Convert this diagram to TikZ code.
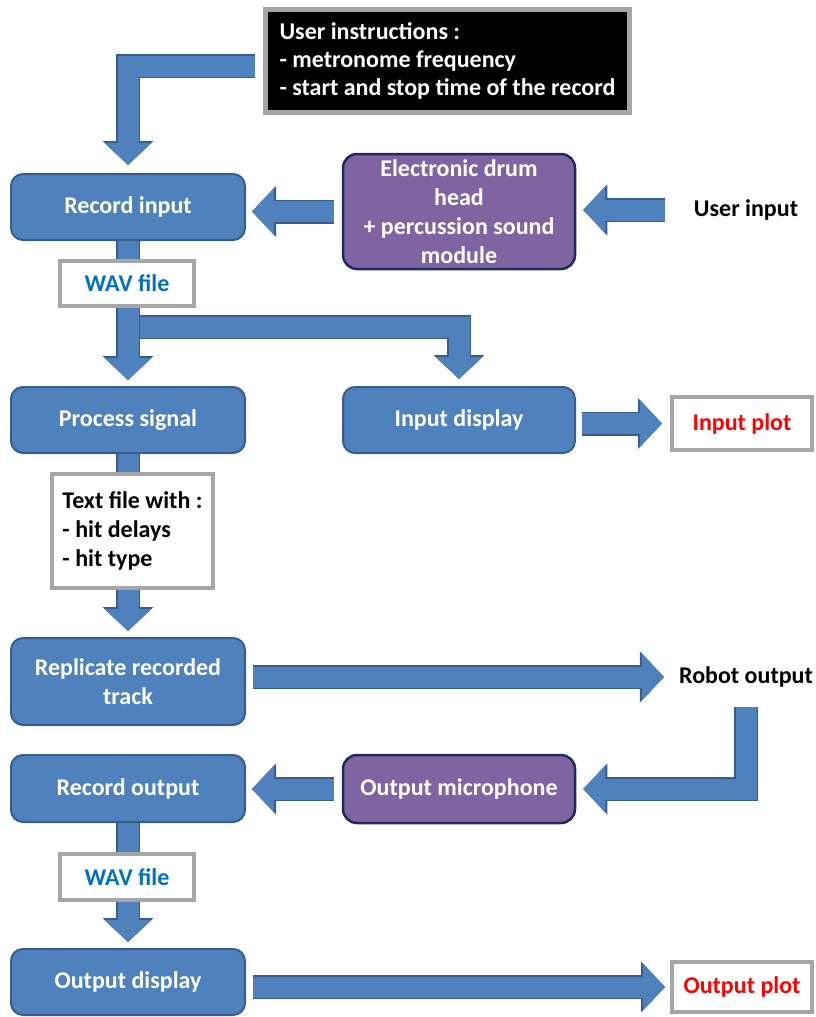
\documentclass[tikz,border=0pt]{standalone}
\usepackage{fontspec}
\setmainfont{Carlito}
\usepackage{tikz}
\usetikzlibrary{arrows.meta, positioning, backgrounds}
\definecolor{boxblue}{HTML}{4F81BD}
\definecolor{boxedge}{HTML}{385D8A}
\definecolor{boxpurple}{HTML}{8064A2}
\definecolor{navyedge}{HTML}{1F2A5E}
\definecolor{framegray}{HTML}{A6A6A6}
\definecolor{wavblue}{HTML}{0070C0}

\tikzset{
    labelfont/.style={font=\bfseries\fontsize{24}{29}\selectfont},
    stage/.style={labelfont, draw=boxedge, fill=boxblue, line width=2pt, rounded corners=12pt, text=white, align=center, minimum width=234pt},
    device/.style={stage, draw=navyedge, fill=boxpurple, line width=2.5pt, rounded corners=14pt, minimum width=232pt},
    filebox/.style={labelfont, draw=framegray, fill=white, line width=4pt, align=center},
    plain/.style={labelfont, inner sep=0pt},
    block/.style={draw=boxblue, line width=21pt, line join=miter,
        -{Triangle[length=22pt, width=47pt, line width=0pt]},
        preaction={draw=boxedge, line width=24pt, -{Triangle[length=24pt, width=51pt, line width=0pt]}}}
}

\begin{document}
\begin{tikzpicture}[x=1pt, y=-1pt]
    \useasboundingbox (0,0) rectangle (816,1017);

    % boxes
    \node[labelfont, fill=black, draw=framegray, line width=5pt, text=white, align=left,
          minimum width=364pt, minimum height=103pt, font=\bfseries\fontsize{24}{28}\selectfont] (instr) at (447.5,61)
          {User instructions :\\- metronome frequency\\- start and stop time of the record};
    \node[stage, minimum height=66pt] (rec) at (128,207) {Record input};
    \node[device, minimum height=115pt] (drum) at (459,211.5) {Electronic drum\\head\\+ percussion sound\\module};
    \node[plain] (user) at (746,210) {User input};
    \node[filebox, text=wavblue, minimum width=134pt, minimum height=45pt] (wavin) at (127,283.5) {WAV file};
    \node[stage, minimum height=66pt] (proc) at (128,420) {Process signal};
    \node[stage, minimum width=232pt, minimum height=66pt] (disp) at (459,420) {Input display};
    \node[filebox, text=red, minimum width=140pt, minimum height=53pt] (inplot) at (742,423.5) {Input plot};
    \node[filebox, align=left, minimum width=161pt, minimum height=114pt] (hits) at (132.5,531)
          {Text file with :\\- hit delays\\- hit type};
    \node[stage, minimum height=87pt] (repl) at (128,681.5) {Replicate recorded\\track};
    \node[plain] (robot) at (746,677) {Robot output};
    \node[device, minimum height=68pt] (mic) at (459,789) {Output microphone};
    \node[stage, minimum height=67pt] (recout) at (128,788.5) {Record output};
    \node[filebox, text=wavblue, minimum width=134pt, minimum height=46pt] (wavout) at (127,877) {WAV file};
    \node[stage, minimum height=66pt] (outdisp) at (128,982) {Output display};
    \node[filebox, text=red, minimum width=140pt, minimum height=50pt] (outplot) at (742,987) {Output plot};

    \coordinate (fork) at (rec.south |- 0,327);

    % block arrows
    \begin{scope}[on background layer]
        \draw[block, shorten <=8pt, shorten >=8pt] ([yshift=-5pt]instr.west) -| (rec.north);
        \draw[block, shorten <=8pt, shorten >=6pt] (drum.west) -- (drum.west -| rec.east);
        \draw[block, shorten <=29pt, shorten >=7pt] (user.west) -- (user.west -| drum.east);
        \draw[block, shorten >=7pt] (fork) -| (disp.north);
        \draw[block, shorten >=6pt] (rec.south) -- (proc.north);
        \draw[block, shorten <=6pt, shorten >=8pt] (disp.east |- inplot.west) -- (inplot.west);
        \draw[block, shorten >=6pt] (proc.south) -- (repl.north);
        \draw[block, shorten <=7pt, shorten >=15pt] (repl.east |- robot.west) -- (robot.west);
        \draw[block, shorten <=19pt, shorten >=7pt] (robot.south) |- (mic.east);
        \draw[block, shorten <=8pt, shorten >=6pt] (mic.west) -- (mic.west -| recout.east);
        \draw[block, shorten >=6pt] (recout.south) -- (outdisp.north);
        \draw[block, shorten <=7pt, shorten >=5pt] (outdisp.east |- outplot.west) -- (outplot.west);
    \end{scope}
\end{tikzpicture}
\end{document}
